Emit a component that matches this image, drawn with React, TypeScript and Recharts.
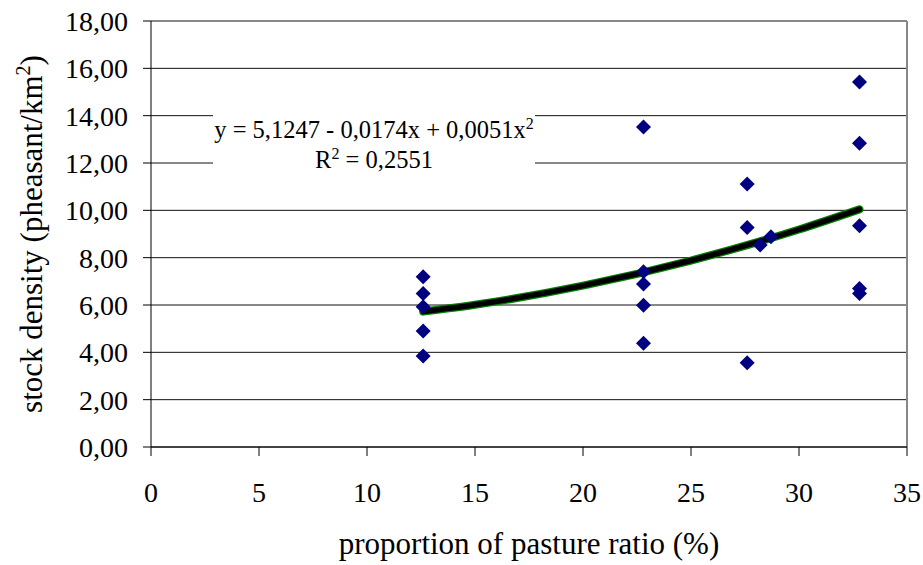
import React from 'react';
import { ComposedChart, Scatter, Line, XAxis, YAxis, CartesianGrid, ReferenceLine } from 'recharts';

// observed plots: pasture ratio (%) vs stock density (pheasant/km2)
const pastureRatio = [
  12.6, 12.6, 12.6, 12.6, 12.6,
  22.8, 22.8, 22.8, 22.8, 22.8,
  27.6, 27.6, 27.6, 28.2, 28.7,
  32.8, 32.8, 32.8, 32.8, 32.8,
];
const stockDensity = [
  7.19, 6.49, 5.93, 4.9, 3.84,
  13.52, 7.4, 6.89, 5.99, 4.38,
  11.11, 9.27, 3.56, 8.53, 8.88,
  15.42, 12.83, 9.35, 6.7, 6.49,
];

// polynomial trend line
const trendX = [12.6, 15, 20, 25, 30, 32.8];
const trendY = [5.72, 6.01, 6.82, 7.88, 9.19, 10.04];

const xTicks = [0, 5, 10, 15, 20, 25, 30, 35];
const yTicks = [0, 2, 4, 6, 8, 10, 12, 14, 16, 18];

const points = pastureRatio.map((x, i) => ({ x, y: stockDensity[i] }));
const trend = trendX.map((x, i) => ({ x, y: trendY[i] }));

const FONT = 'Times New Roman';
const tickStyle = { fill: '#000', fontFamily: FONT, fontSize: 28 };

const Diamond = (props: any) => {
  const { cx, cy } = props;
  if (cx == null || cy == null) return null;
  const r = 7.5;
  return <path d={`M${cx},${cy - r}L${cx + r},${cy}L${cx},${cy + r}L${cx - r},${cy}Z`} fill="#000080" />;
};

const XTitle = (props: any) => {
  const { x, y, width } = props.viewBox;
  return (
    <text x={x + width / 2} y={y + 107} textAnchor="middle" fontFamily={FONT} fontSize={31} fill="#000">
      proportion of pasture ratio (%)
    </text>
  );
};

const YTitle = (props: any) => {
  const { y, height } = props.viewBox;
  const cx = 42;
  const cy = y + height / 2;
  return (
    <text x={cx} y={cy} transform={`rotate(-90 ${cx} ${cy})`} textAnchor="middle" fontFamily={FONT} fontSize={31} fill="#000">
      stock density (pheasant/km<tspan dy={-12} fontSize={20}>2</tspan><tspan dy={12}>)</tspan>
    </text>
  );
};

export default function App() {
  return (
    <div style={{ position: 'absolute', left: 0, top: 0, width: 923, height: 565, background: '#fff', fontFamily: FONT }}>
      <ComposedChart width={923} height={565} margin={{ top: 21, right: 16, bottom: 0, left: 0 }}>
        <CartesianGrid horizontal vertical={false} stroke="#111" />
        <XAxis
          type="number"
          dataKey="x"
          domain={[0, 35]}
          ticks={xTicks}
          interval={0}
          height={118}
          stroke="#000"
          tickSize={9}
          tickMargin={26}
          tick={tickStyle}
          label={<XTitle />}
        />
        <YAxis
          type="number"
          dataKey="y"
          domain={[0, 18]}
          ticks={yTicks}
          interval={0}
          width={151}
          stroke="#000"
          tickSize={8}
          tickMargin={15}
          tick={tickStyle}
          tickFormatter={(v: number) => v.toFixed(2).replace('.', ',')}
          label={<YTitle />}
        />
        <ReferenceLine x={35} stroke="#888" strokeWidth={2} />
        <Scatter data={points} shape={<Diamond />} isAnimationActive={false} />
        <Line data={trend} dataKey="y" type="monotone" stroke="#008000" strokeWidth={8} strokeLinecap="round" dot={false} isAnimationActive={false} />
        <Line data={trend} dataKey="y" type="monotone" stroke="#000" strokeWidth={5.5} strokeLinecap="round" dot={false} isAnimationActive={false} />
      </ComposedChart>
      <div
        style={{
          position: 'absolute',
          left: 213,
          top: 110,
          width: 322,
          height: 64,
          background: '#fff',
          textAlign: 'center',
          fontFamily: FONT,
          fontSize: 24.5,
          lineHeight: '30px',
          color: '#000',
          paddingTop: 5,
          boxSizing: 'border-box',
          whiteSpace: 'nowrap',
        }}
      >
        <div>y = 5,1247 - 0,0174x + 0,0051x<sup style={{ fontSize: 16, lineHeight: 0 }}>2</sup></div>
        <div>R<sup style={{ fontSize: 16, lineHeight: 0 }}>2</sup> = 0,2551</div>
      </div>
    </div>
  );
}
